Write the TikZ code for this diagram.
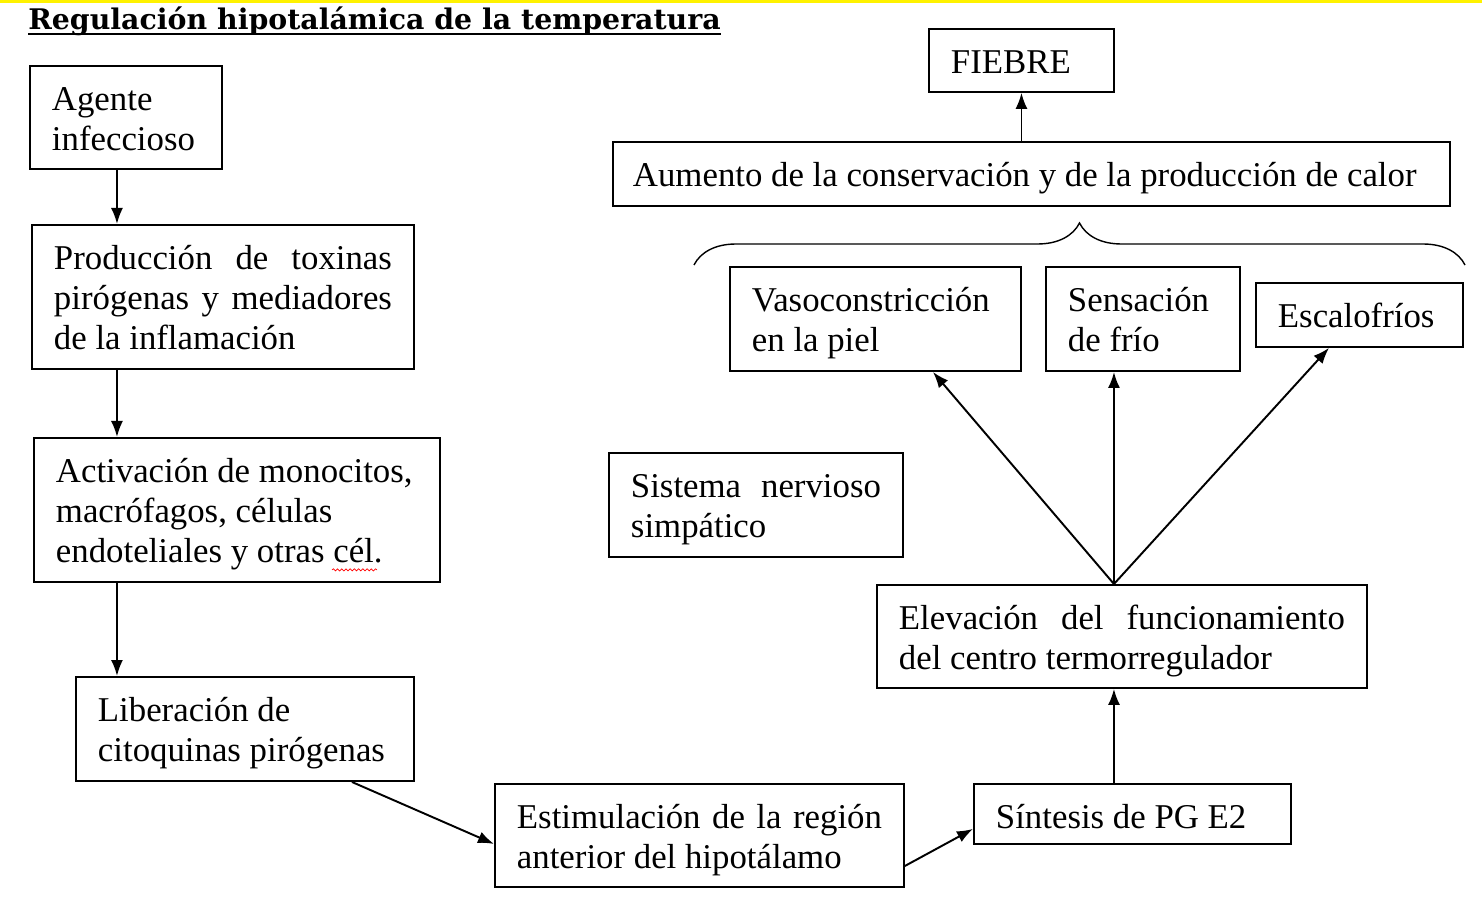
\documentclass[tikz,border=0pt]{standalone}
\usepackage{fontspec}
\setmainfont{Liberation Serif}
\newfontfamily\titlefont{DejaVu Serif}
\usetikzlibrary{arrows.meta, decorations.pathreplacing, decorations.pathmorphing}
\hyphenpenalty=10000
\exhyphenpenalty=10000

\begin{document}
\begin{tikzpicture}[
        font=\fontsize{19.8}{22.7}\selectfont,
        tbox/.style={rectangle, draw=black, line width=1.1pt, anchor=north west, inner xsep=0.44cm, inner ysep=0pt, align=justify, text height=25.5pt},
        link/.style={line width=1.1pt, -{Latex[length=3.2mm, width=2.4mm]}},
        spell/.style={draw=red, line width=0.4pt, decorate, decoration={snake, amplitude=0.6pt, segment length=2.4pt}},
      ]
        \useasboundingbox (0,0) rectangle (29.64,-18.02);
        \fill[yellow] (0,0) rectangle (29.64,-0.06);
        \node[anchor=base west, inner sep=0pt, font=\titlefont\bfseries\fontsize{16.15}{18}\selectfont] (titulo) at (0.56,-0.60) {Regulación hipotalámica de la temperatura};
        \draw[line width=1.3pt] ([yshift=-2.4pt]titulo.base west) -- ([yshift=-2.4pt]titulo.base east);

        \node[tbox, text width=2.96cm, text depth=33.1pt] (agente)       at (0.58,-1.30)  {Agente\\infeccioso};
        \node[tbox, text width=6.76cm, text depth=56.4pt] (produccion)   at (0.62,-4.48)  {Producción\hfill de\hfill toxinas\\pirógenas\hfill y\hfill mediadores\\de la inflamación};
        \node[tbox, text width=7.24cm, text depth=56.4pt] (activacion)   at (0.66,-8.74)  {Activación de monocitos,\\macrófagos, células\\endoteliales y otras cél.};
        \node[tbox, text width=5.88cm, text depth=33.7pt] (liberacion)   at (1.50,-13.52) {Liberación de\\citoquinas pirógenas};
        \node[tbox, text width=7.30cm, text depth=33.1pt] (estimulacion) at (9.88,-15.66) {Estimulación\hfill de\hfill la\hfill región\\anterior del hipotálamo};
        \node[tbox, text width=5.46cm, text depth=8.6pt]  (sintesis)     at (19.46,-15.66) {Síntesis de PG E2};
        \node[tbox, text width=8.92cm, text depth=33.1pt] (elevacion)    at (17.52,-11.68) {Elevación\hfill del\hfill funcionamiento\\del centro termorregulador};
        \node[tbox, text width=5.00cm, text depth=33.7pt] (sistema)      at (12.16,-9.04)  {Sistema\hfill nervioso\\simpático};
        \node[tbox, text width=4.94cm, text depth=33.7pt] (vaso)         at (14.58,-5.32)  {Vasoconstricción\\en la piel};
        \node[tbox, text width=3.00cm, text depth=33.7pt] (sensacion)    at (20.90,-5.32)  {Sensación\\de frío};
        \node[tbox, text width=3.26cm, text depth=10.9pt] (escalofrios)  at (25.10,-5.64)  {Escalofríos};
        \node[tbox, text width=15.94cm, text depth=10.9pt, inner xsep=0.40cm] (aumento) at (12.24,-2.82) {Aumento de la conservación y de la producción de calor};
        \node[tbox, text width=2.82cm, text depth=10.3pt] (fiebre)       at (18.56,-0.56)  {FIEBRE};

        \coordinate (spine) at ([xshift=-0.18cm]agente.south);
        \coordinate (apex)  at ([xshift=-0.16cm]elevacion.north);

        \draw[link] (spine)                  -- (spine |- produccion.north);
        \draw[link] (spine |- produccion.south) -- (spine |- activacion.north);
        \draw[link] (spine |- activacion.south) -- (spine |- liberacion.north);
        \draw[link] ([xshift=-1.26cm]liberacion.south east) -- ([yshift=-0.17cm]estimulacion.west);
        \draw[link] ([yshift=-0.61cm]estimulacion.east) -- ([yshift=-0.30cm]sintesis.west);
        \draw[link] (apex |- sintesis.north) -- (apex |- elevacion.south);
        \draw[link] (apex) -- ([xshift=1.15cm]vaso.south);
        \draw[link] (apex) -- (apex |- sensacion.south);
        \draw[link] (apex) -- ([xshift=-0.61cm]escalofrios.south);
        \draw[link] (fiebre.south |- aumento.north) -- (fiebre.south);

        \draw[line width=0.8pt, decorate, decoration={brace, amplitude=0.84cm}] (13.88,-5.30) -- (29.30,-5.30);
        \path[spell] ([xshift=5.98cm, yshift=0.26cm]activacion.south west) -- ([xshift=6.88cm, yshift=0.26cm]activacion.south west);
      \end{tikzpicture}
\end{document}
